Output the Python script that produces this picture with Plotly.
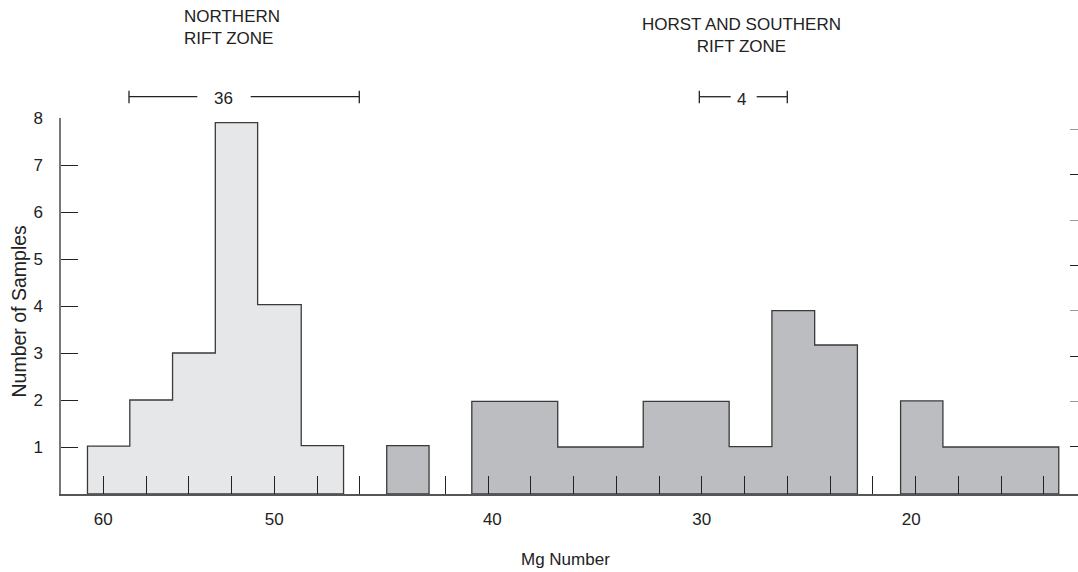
import plotly.graph_objects as go

# ---- data (x in bin-position units along the drawn Mg Number axis) ----
north_edges = [-0.37, 0.62, 1.62, 2.62, 3.61, 4.63, 5.62]
north_counts = [1.02, 2.0, 3.0, 7.9, 4.03, 1.03]

horst_a_edges = [6.63, 7.62]
horst_a_counts = [1.03]

horst_b_edges = [8.62, 9.62, 10.63, 11.63, 12.63, 13.63, 14.64, 15.64, 16.64, 17.64]
horst_b_counts = [1.97, 1.97, 1.0, 1.0, 1.97, 1.97, 1.01, 3.9, 3.17]

horst_c_edges = [18.65, 19.64, 20.64, 21.64, 22.35]
horst_c_counts = [1.98, 1.0, 1.0, 1.0]

tick_pos = [0, 1, 2, 3, 4, 5, 6, 8, 9, 10, 11, 12, 13, 14, 15, 16, 17, 18, 19, 20, 21, 22]
label_pos = [0, 4, 9.1, 14, 18.9]
label_text = ["60", "50", "40", "30", "20"]

y_ticks = [1, 2, 3, 4, 5, 6, 7, 8]

FONT = "Liberation Sans, Arial, sans-serif"
LIGHT = "#e6e7e8"
DARK = "#bcbdc0"
OUTLINE = "#3a3a3a"


def outline(edges, counts):
    xs, ys = [edges[0]], [0]
    for i, c in enumerate(counts):
        xs += [edges[i], edges[i + 1]]
        ys += [c, c]
    xs += [edges[-1], edges[0]]
    ys += [0, 0]
    return xs, ys


fig = go.Figure()
for edges, counts, col in [
    (north_edges, north_counts, LIGHT),
    (horst_a_edges, horst_a_counts, DARK),
    (horst_b_edges, horst_b_counts, DARK),
    (horst_c_edges, horst_c_counts, DARK),
]:
    xs, ys = outline(edges, counts)
    fig.add_trace(go.Scatter(x=xs, y=ys, mode="lines", fill="toself", fillcolor=col,
                             line=dict(color=OUTLINE, width=1.3), hoverinfo="skip",
                             showlegend=False))

# dummy traces to bind the overlay axes
fig.add_trace(go.Scatter(x=[None], y=[None], xaxis="x2", yaxis="y", showlegend=False))
fig.add_trace(go.Scatter(x=[None], y=[None], xaxis="x", yaxis="y2", showlegend=False))
fig.add_trace(go.Scatter(x=[None], y=[None], xaxis="x", yaxis="y3", showlegend=False))

xr = [-0.9895, 22.80]
fig.update_layout(
    width=1078, height=572,
    margin=dict(l=61, r=0, t=118, b=78, autoexpand=False),
    paper_bgcolor="white", plot_bgcolor="white",
    font=dict(family=FONT, size=17, color="#222"),
    xaxis=dict(range=xr, showgrid=False, zeroline=False, showline=True,
               linecolor="#555", linewidth=1.5, ticks="inside", ticklen=18,
               tickwidth=1.3, tickcolor="#222", tickvals=tick_pos,
               ticktext=[""] * len(tick_pos), fixedrange=True),
    xaxis2=dict(range=xr, overlaying="x", anchor="y", side="bottom", showgrid=False,
                zeroline=False, showline=False, ticks="", tickvals=label_pos,
                ticktext=label_text, ticklabelstandoff=13,
                tickfont=dict(size=17, color="#222")),
    yaxis=dict(range=[0, 8], showgrid=False, zeroline=False, showline=True,
               linecolor="#777", linewidth=1.5, ticks="inside", ticklen=17,
               tickwidth=1.3, tickcolor="#222", tickvals=y_ticks,
               ticklabelstandoff=13, tickfont=dict(size=17, color="#222")),
    yaxis2=dict(range=[-0.042, 8.25], overlaying="y", anchor="x", side="right",
                showgrid=False, zeroline=False, showline=False, ticks="inside",
                ticklen=8, tickwidth=1.3, tickcolor="#222", tickvals=[1, 3, 5, 7],
                showticklabels=False),
    yaxis3=dict(range=[-0.042, 8.25], overlaying="y", anchor="x", side="right",
                showgrid=False, zeroline=False, showline=False, ticks="inside",
                ticklen=8, tickwidth=1.3, tickcolor="#999", tickvals=[2, 4, 6, 8],
                showticklabels=False),
)

ann_font = dict(family=FONT, size=17, color="#222")
fig.add_annotation(text="NORTHERN<br>RIFT ZONE", x=1.85, xref="x", y=1.2407, yref="paper",
                   xanchor="left", yanchor="middle", align="left", showarrow=False,
                   font=ann_font)
fig.add_annotation(text="HORST AND SOUTHERN<br>RIFT ZONE", x=14.92, xref="x", y=1.2207,
                   yref="paper", xanchor="center", yanchor="middle", align="center",
                   showarrow=False, font=ann_font)
fig.add_annotation(text="36", x=2.807, xref="x", y=1.051, yref="paper", showarrow=False,
                   xanchor="center", yanchor="middle", font=ann_font)
fig.add_annotation(text="4", x=14.933, xref="x", y=1.049, yref="paper", showarrow=False,
                   xanchor="center", yanchor="middle", font=ann_font)
fig.add_annotation(text="Mg Number", x=0.4956, xref="paper", y=-0.1737, yref="paper",
                   xanchor="center", yanchor="middle", showarrow=False, font=ann_font)
fig.add_annotation(text="Number of Samples", x=-0.0413, xref="paper", y=0.488, yref="paper",
                   xanchor="center", yanchor="middle", textangle=-90, showarrow=False,
                   font=dict(family=FONT, size=19.5, color="#222"))

# brackets
line = dict(color="#222", width=1.3)
for x0, x1 in [(0.601, 2.199), (3.448, 5.988), (13.942, 14.676), (15.284, 16.0)]:
    fig.add_shape(type="line", x0=x0, x1=x1, xref="x", y0=1.0566, y1=1.0566, yref="paper", line=line)
for xc in [0.601, 5.988, 13.942, 16.0]:
    fig.add_shape(type="line", x0=xc, x1=xc, xref="x", y0=1.0391, y1=1.0726, yref="paper", line=line)

fig.write_html("out.html", config={"displayModeBar": False},
               post_script="document.body.style.margin='0';document.body.style.overflow='hidden';")
